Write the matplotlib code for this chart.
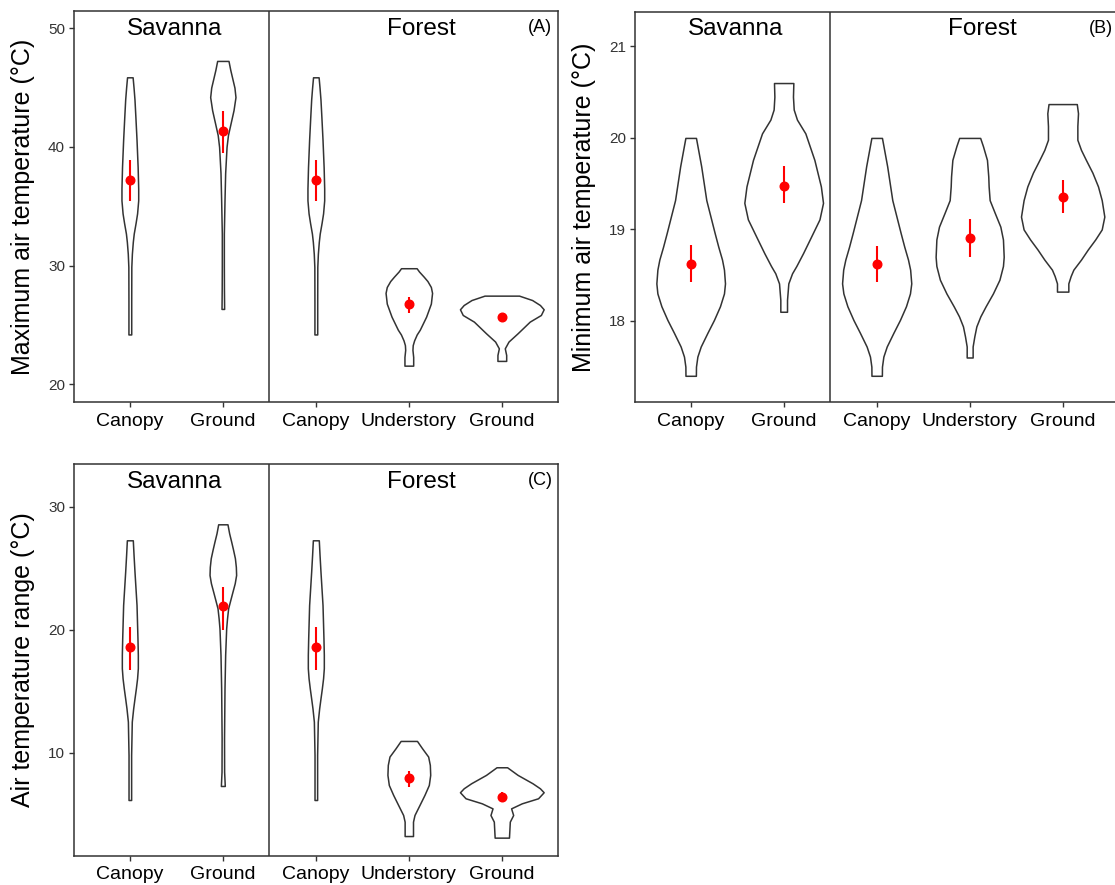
import matplotlib
matplotlib.use('Agg')
import matplotlib.pyplot as plt
import numpy as np

plt.rcParams['font.family'] = ['Liberation Sans', 'DejaVu Sans']

sites = ['Canopy', 'Ground', 'Canopy', 'Understory', 'Ground']
habitats = ['Savanna', 'Forest']

# ---- (A) maximum air temperature: violin outlines (value, half width) ----
a_sc_y = [24.2, 27.0, 29.9, 31.0, 32.0, 32.7, 33.6, 34.4, 35.5, 36.5, 38.3, 40.6, 42.5, 44.0, 45.0, 45.87]
a_sc_w = [0.015, 0.015, 0.016, 0.022, 0.032, 0.042, 0.062, 0.078, 0.09, 0.09, 0.084, 0.072, 0.06, 0.05, 0.04, 0.03]
a_sg_y = [26.35, 28.0, 30.0, 32.7, 35.5, 37.8, 40.0, 41.0, 41.7, 42.4, 43.1, 44.2, 45.0, 45.6, 46.5, 47.25]
a_sg_w = [0.014, 0.012, 0.011, 0.011, 0.018, 0.025, 0.04, 0.055, 0.075, 0.095, 0.115, 0.136, 0.125, 0.107, 0.08, 0.061]
a_fc_y = [24.2, 27.0, 29.9, 31.0, 32.0, 32.7, 33.6, 34.4, 35.5, 36.5, 38.3, 40.6, 42.5, 44.0, 45.0, 45.87]
a_fc_w = [0.015, 0.015, 0.016, 0.022, 0.032, 0.042, 0.062, 0.078, 0.09, 0.09, 0.084, 0.072, 0.06, 0.05, 0.04, 0.03]
a_fu_y = [21.57, 22.3, 22.9, 23.3, 23.7, 24.2, 24.6, 25.7, 26.8, 27.7, 28.2, 28.7, 29.07, 29.5, 29.78]
a_fu_w = [0.047, 0.047, 0.039, 0.042, 0.057, 0.085, 0.118, 0.186, 0.237, 0.25, 0.237, 0.2, 0.16, 0.11, 0.084]
a_fg_y = [21.97, 22.47, 23.03, 23.6, 24.3, 25.28, 25.84, 26.32, 26.68, 27.1, 27.47]
a_fg_w = [0.047, 0.047, 0.032, 0.072, 0.17, 0.30, 0.42, 0.45, 0.41, 0.326, 0.186]
a_mean = [37.22, 41.35, 37.22, 26.77, 25.70]
a_low = [35.42, 39.47, 35.42, 26.04, 25.50]
a_high = [38.88, 43.03, 38.88, 27.39, 25.90]

# ---- (B) minimum air temperature ----
b_sc_y = [17.40, 17.50, 17.61, 17.72, 17.87, 18.01, 18.16, 18.30, 18.41, 18.56, 18.67, 18.81, 18.96, 19.32, 19.69, 20.0]
b_sc_w = [0.056, 0.057, 0.072, 0.108, 0.18, 0.25, 0.315, 0.358, 0.369, 0.358, 0.337, 0.297, 0.258, 0.168, 0.113, 0.057]
b_sg_y = [18.10, 18.23, 18.41, 18.52, 18.60, 18.74, 18.89, 19.11, 19.29, 19.47, 19.76, 20.05, 20.20, 20.31, 20.45, 20.60]
b_sg_w = [0.036, 0.036, 0.05, 0.09, 0.136, 0.208, 0.28, 0.385, 0.423, 0.40, 0.33, 0.233, 0.143, 0.108, 0.1, 0.104]
b_fc_y = [17.40, 17.50, 17.61, 17.72, 17.87, 18.01, 18.16, 18.30, 18.41, 18.56, 18.67, 18.81, 18.96, 19.32, 19.69, 20.0]
b_fc_w = [0.056, 0.057, 0.072, 0.108, 0.18, 0.25, 0.315, 0.358, 0.372, 0.36, 0.337, 0.297, 0.258, 0.168, 0.113, 0.057]
b_fu_y = [17.60, 17.72, 17.83, 17.94, 18.05, 18.16, 18.30, 18.45, 18.60, 18.70, 18.89, 19.03, 19.18, 19.32, 19.47, 19.58, 19.76, 19.91, 20.0]
b_fu_w = [0.032, 0.032, 0.05, 0.072, 0.115, 0.172, 0.25, 0.32, 0.358, 0.366, 0.358, 0.33, 0.27, 0.215, 0.204, 0.2, 0.186, 0.143, 0.113]
b_fg_y = [18.32, 18.41, 18.49, 18.56, 18.67, 18.78, 18.89, 19.0, 19.14, 19.32, 19.47, 19.62, 19.76, 19.87, 19.98, 20.13, 20.27, 20.37]
b_fg_w = [0.061, 0.061, 0.086, 0.115, 0.197, 0.27, 0.35, 0.42, 0.448, 0.42, 0.38, 0.32, 0.25, 0.197, 0.158, 0.158, 0.165, 0.152]
b_mean = [18.62, 19.47, 18.62, 18.91, 19.35]
b_low = [18.43, 19.29, 18.43, 18.70, 19.18]
b_high = [18.83, 19.69, 18.82, 19.11, 19.54]

# ---- (C) air temperature range ----
c_sc_y = [6.15, 9.8, 12.52, 13.6, 14.4, 15.23, 16.04, 16.86, 17.94, 19.3, 22.0, 24.72, 26.07, 27.26]
c_sc_w = [0.014, 0.014, 0.021, 0.036, 0.05, 0.065, 0.078, 0.086, 0.086, 0.082, 0.072, 0.05, 0.04, 0.032]
c_sg_y = [7.29, 8.45, 11.17, 15.23, 17.94, 20.1, 20.9, 21.73, 22.4, 23.09, 23.77, 24.44, 25.1, 25.8, 26.5, 27.15, 27.83, 28.56]
c_sg_w = [0.021, 0.014, 0.013, 0.018, 0.025, 0.036, 0.045, 0.057, 0.08, 0.104, 0.128, 0.143, 0.14, 0.13, 0.11, 0.09, 0.068, 0.05]
c_fc_y = [6.15, 9.8, 12.52, 13.6, 14.4, 15.23, 16.04, 16.86, 17.94, 19.3, 22.0, 24.72, 26.07, 27.26]
c_fc_w = [0.014, 0.014, 0.021, 0.036, 0.05, 0.065, 0.078, 0.086, 0.086, 0.082, 0.072, 0.05, 0.04, 0.032]
c_fu_y = [3.22, 4.39, 4.93, 5.75, 6.56, 7.37, 8.19, 9.0, 9.68, 10.35, 10.95]
c_fu_w = [0.045, 0.045, 0.061, 0.115, 0.168, 0.215, 0.23, 0.226, 0.208, 0.143, 0.088]
c_fg_y = [3.09, 4.39, 4.93, 5.47, 5.88, 6.29, 6.78, 7.1, 7.51, 8.19, 8.81]
c_fg_w = [0.077, 0.086, 0.122, 0.10, 0.215, 0.39, 0.45, 0.41, 0.33, 0.17, 0.057]
c_mean = [18.62, 21.92, 18.62, 7.91, 6.37]
c_low = [16.72, 20.0, 16.72, 7.24, 5.96]
c_high = [20.22, 23.5, 20.22, 8.51, 6.78]

LINE = '#333333'


def draw_panel(ax, outlines, means, lows, highs, ylim, yticks, ylabel, tag):
    for i, (ys, ws) in enumerate(outlines):
        pos = i + 1
        ys = np.array(ys)
        ws = np.array(ws)
        ax.fill_betweenx(ys, pos - ws, pos + ws, facecolor='white',
                         edgecolor=LINE, linewidth=1.1, joinstyle='round', zorder=2)
    xs = np.arange(1, len(means) + 1)
    ax.vlines(xs, lows, highs, color='red', linewidth=1.5, zorder=3)
    ax.plot(xs, means, 'o', color='red', markersize=6.2, zorder=4)

    ax.axvline(2.5, color=LINE, linewidth=1.1, zorder=1)
    ax.set_xlim(0.4, 5.6)
    ax.set_ylim(*ylim)
    ax.set_xticks(xs)
    ax.set_xticklabels(sites, fontsize=14, color='black')
    ax.set_yticks(yticks)
    ax.set_yticklabels([str(t) for t in yticks], fontsize=11, color='#333333')
    ax.tick_params(direction='out', length=3.5, width=1.0, color=LINE, pad=3)
    ax.tick_params(axis='x', pad=4)
    for s in ax.spines.values():
        s.set_color(LINE)
        s.set_linewidth(1.1)
    ax.set_ylabel(ylabel, fontsize=18)
    ax.yaxis.set_label_coords(-0.08, 0.5)

    tr = ax.get_xaxis_transform()
    ax.text(1.48, 0.955, habitats[0], transform=tr, ha='center', va='center', fontsize=17.5)
    ax.text(4.14, 0.955, habitats[1], transform=tr, ha='center', va='center', fontsize=17.5)
    ax.text(5.41, 0.958, tag, transform=tr, ha='center', va='center', fontsize=13)


fig = plt.figure(figsize=(11.15, 8.85), dpi=100)
ax_a = fig.add_axes([0.0664, 0.5454, 0.4337, 0.4422])
ax_b = fig.add_axes([0.5694, 0.5454, 0.4337, 0.4414])
ax_c = fig.add_axes([0.0664, 0.0328, 0.4337, 0.4426])

draw_panel(ax_a,
           [(a_sc_y, a_sc_w), (a_sg_y, a_sg_w), (a_fc_y, a_fc_w), (a_fu_y, a_fu_w), (a_fg_y, a_fg_w)],
           a_mean, a_low, a_high, (18.48, 51.46), [20, 30, 40, 50],
           'Maximum air temperature (°C)', '(A)')
draw_panel(ax_b,
           [(b_sc_y, b_sc_w), (b_sg_y, b_sg_w), (b_fc_y, b_fc_w), (b_fu_y, b_fu_w), (b_fg_y, b_fg_w)],
           b_mean, b_low, b_high, (17.11, 21.38), [18, 19, 20, 21],
           'Minimum air temperature (°C)', '(B)')
draw_panel(ax_c,
           [(c_sc_y, c_sc_w), (c_sg_y, c_sg_w), (c_fc_y, c_fc_w), (c_fu_y, c_fu_w), (c_fg_y, c_fg_w)],
           c_mean, c_low, c_high, (1.60, 33.44), [10, 20, 30],
           'Air temperature range (°C)', '(C)')

fig.savefig('out.png', dpi=100, facecolor='white')
